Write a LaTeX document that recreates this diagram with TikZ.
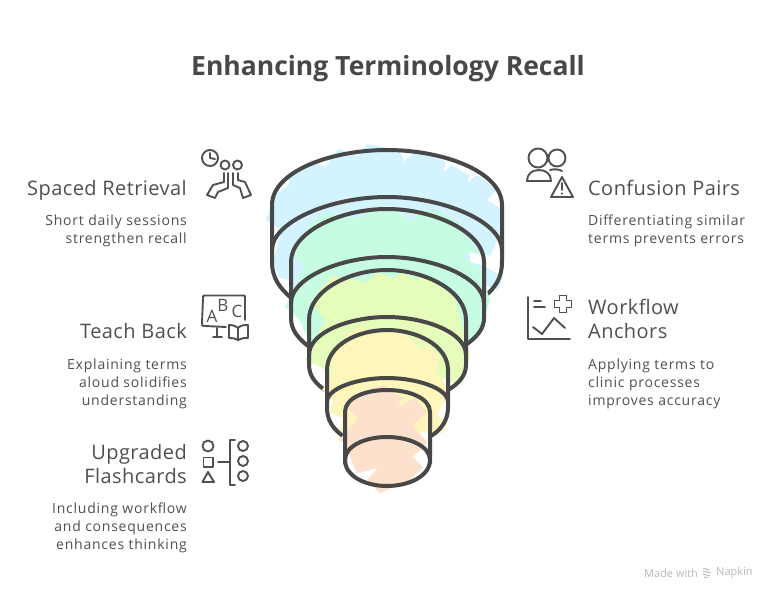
\documentclass[tikz,border=0pt]{standalone}
\usepackage{fontspec}
\setmainfont{Open Sans}
\definecolor{ink}{HTML}{484848}
\definecolor{txt}{HTML}{505050}
\definecolor{cblue}{HTML}{D2F3FF}
\definecolor{cgreen}{HTML}{C6FCE2}
\definecolor{clime}{HTML}{E6FCBB}
\definecolor{cyellow}{HTML}{FEF6BB}
\definecolor{cpeach}{HTML}{FDE1CC}
\newfontfamily\headfont[LetterSpace=2.2]{Open Sans}
\newfontfamily\bodyfont[LetterSpace=5.5]{Open Sans}
\tikzset{
  rim/.style={draw=ink,line width=4pt,line cap=round,line join=round},
  ico/.style={draw=txt,line width=1.9pt,line cap=round,line join=round},
  titletext/.style={text=ink,font=\fontsize{26.5}{30}\selectfont\bfseries,inner sep=0pt},
  headl/.style={text=txt,font=\headfont\fontsize{20}{24}\selectfont,align=right,anchor=east,inner sep=0pt},
  headr/.style={text=txt,font=\headfont\fontsize{20}{24}\selectfont,align=left,anchor=west,inner sep=0pt},
  bodyl/.style={text=txt,font=\bodyfont\fontsize{14}{18}\selectfont,align=right,anchor=east,inner sep=0pt},
  bodyr/.style={text=txt,font=\bodyfont\fontsize{14}{18}\selectfont,align=left,anchor=west,inner sep=0pt},
  mark text/.style={text=black!28,font=\fontsize{11}{12}\selectfont,inner sep=0pt,anchor=west},
  icon letter/.style={text=txt,font=\fontsize{17}{17}\selectfont,inner sep=0pt}
}
\begin{document}
\begin{tikzpicture}[x=1pt,y=-1pt]
\useasboundingbox (0,0) rectangle (777,600);
\fill[white] (0,0) rectangle (777,600);
\node[titletext] (title) at (388,69) {Enhancing Terminology Recall};

% blue layer
\fill[cblue] (266,220)--(274,196)--(290,184)--(288,176)--(312,160)--(325,167)--(338,149)--(358,156)--(367,144)--(400,150)--(404,162)--(417,149)--(446,162)--(443,173)--(452,165)--(470,176)--(467,183)--(477,175)--(497,190)--(487,200)--(500,208)--(502,230)--(490,256)--(470,250)--(470,262)--(485,266)--(503,278)--(498,290)--(485,285)--(470,300)--(300,300)--(290,280)--(280,278)--(273,262)--(282,230)--cycle;
\draw[rim] (272,262)--(272,205) .. controls (272,172) and (330,150) .. (387,150) .. controls (444,150) and (502,172) .. (502,205)--(502,262) .. controls (502,278) and (495,288) .. (484,297);
\draw[rim] (272,262) .. controls (272,278) and (280,288) .. (290,297);
\draw[rim] (272,250) .. controls (272,222) and (330,197) .. (387,197) .. controls (444,197) and (502,222) .. (502,250);

% green layer
\fill[cgreen] (285,307)--(305,265)--(293,256)--(312,222)--(327,212)--(345,218)--(363,217)--(373,205)--(397,212)--(412,222)--(420,210)--(437,210)--(462,225)--(480,255)--(470,252)--(463,257)--(480,268)--(490,300)--(480,335)--(467,345)--(310,345)--(300,320)--cycle;
\draw[rim] (291,318)--(291,262) .. controls (291,232) and (340,209) .. (387,209) .. controls (434,209) and (484,232) .. (484,262)--(484,318) .. controls (484,328) and (478,336) .. (467,344);
\draw[rim] (291,318) .. controls (291,330) and (298,338) .. (308,346);
\draw[rim] (291,303) .. controls (291,278) and (340,257) .. (387,257) .. controls (434,257) and (484,278) .. (484,303);

% lime layer
\fill[clime] (305,360)--(325,320)--(315,308)--(312,300)--(332,275)--(350,280)--(367,282)--(378,272)--(393,278)--(403,272)--(417,280)--(423,273)--(455,298)--(463,330)--(470,355)--(462,385)--(443,378)--(430,395)--(340,395)--(323,368)--cycle;
\draw[rim] (309,365)--(309,320) .. controls (309,290) and (350,270) .. (387,270) .. controls (424,270) and (466,290) .. (466,320)--(466,365) .. controls (466,376) and (458,384) .. (448,390);
\draw[rim] (309,365) .. controls (309,376) and (316,384) .. (325,390);
\draw[rim] (309,355) .. controls (309,332) and (350,317) .. (387,317) .. controls (424,317) and (466,332) .. (466,355);

% yellow layer
\fill[cyellow] (322,390)--(333,373)--(330,357)--(350,333)--(360,328)--(377,335)--(397,328)--(407,337)--(423,350)--(427,345)--(440,357)--(435,372)--(443,380)--(448,393)--(437,415)--(447,423)--(443,433)--(430,432)--(345,440)--(338,440)--(343,418)--(330,413)--(333,398)--cycle;
\draw[rim] (327,408)--(327,370) .. controls (327,345) and (358,330) .. (387,330) .. controls (416,330) and (448,345) .. (448,370)--(448,408) .. controls (448,420) and (441,430) .. (431,436);
\draw[rim] (327,408) .. controls (327,420) and (333,429) .. (343,436);
\draw[rim] (327,402) .. controls (327,388) and (358,378) .. (387,378) .. controls (416,378) and (448,388) .. (448,402);

% peach layer
\fill[cpeach] (339,440)--(358,418)--(348,408)--(353,395)--(385,385)--(393,393)--(403,397)--(397,407)--(415,398)--(427,413)--(412,425)--(427,442)--(413,457)--(423,467)--(410,480)--(380,493)--(367,480)--(378,468)--(357,473)--(350,457)--(347,445)--cycle;
\draw[rim] (345,463)--(345,412) .. controls (345,398) and (365,390) .. (387,390) .. controls (409,390) and (430,398) .. (430,412)--(430,463);
\draw[rim] (345,460) .. controls (345,446) and (365,437) .. (387,437) .. controls (409,437) and (430,446) .. (430,460) .. controls (430,476) and (409,486) .. (387,486) .. controls (365,486) and (345,476) .. (345,460)--cycle;

% left texts
\node[headl] (h1) at (187,191) {\strut Spaced Retrieval};
\node[bodyl] (b1) at (187,230.5) {\strut Short daily sessions\\\strut strengthen recall};
\node[headl] (h2) at (187,334) {\strut Teach Back};
\node[bodyl] (b2) at (187,384) {\strut Explaining terms\\\strut aloud solidifies\\\strut understanding};
\node[headl] (h3) at (187,467) {\strut Upgraded\\\strut Flashcards};
\node[bodyl] (b3) at (187,527.5) {\strut Including workflow\\\strut and consequences\\\strut enhances thinking};
% right texts
\node[headr] (h4) at (588,191) {\strut Confusion Pairs};
\node[bodyr] (b4) at (588,230.5) {\strut Differentiating similar\\\strut terms prevents errors};
\node[headr] (h5) at (588,322) {\strut Workflow\\\strut Anchors};
\node[bodyr] (b5) at (588,384) {\strut Applying terms to\\\strut clinic processes\\\strut improves accuracy};

% icon 1: clock and two people
\draw[ico] (210,158) circle (8);
\draw[ico] (210,153)--(210,158)--(215,159);
\draw[ico] (225,165) circle (4.5);
\draw[ico] (237.5,165) circle (4.5);
\draw[ico] (224,173)--(224,182)--(213,185)--(207,195)--(215,198)--(218,192)--(228,188)--(228,173);
\draw[ico] (233,173)--(233,185)--(240,188)--(243,198)--(251,195)--(245,182)--(238,180)--(238,173);

% icon 2: board and book
\draw[ico] (245,320)--(245,297) .. controls (245,295.5) .. (243,295.5)--(205,295.5) .. controls (203,295.5) .. (203,298)--(202,323) .. controls (202,326) .. (205,326)--(226,327);
\draw[ico] (217,328)--(217,337);
\draw[ico] (213,337)--(222,337);
\node[icon letter] (la) at (212,316) {A};
\node[icon letter] (lb) at (223,305) {B};
\node[icon letter] (lc) at (237,311) {C};
\draw[ico] (238,328) .. controls (234,325) and (232,325) .. (229,325)--(229,338) .. controls (232,338) and (235,338) .. (238,340) .. controls (241,338) and (244,338) .. (248,338)--(248,325) .. controls (244,325) and (241,325) .. (238,328)--(238,340);

% icon 3: shapes and bracket
\draw[ico] (208,446) circle (5.5);
\draw[ico] (203.5,457.5) rectangle (213,467);
\draw[ico] (208,472)--(214,482)--(202.5,482)--cycle;
\draw[ico] (218,462)--(230,462);
\draw[ico] (235,440)--(230,440)--(230,485)--(235,485);
\draw[ico] (243,446) circle (5);
\draw[ico] (243,461) circle (5);
\draw[ico] (243,476) circle (5);

% icon 4: people and warning
\draw[ico] (538,158) circle (9.5);
\draw[ico] (557,158) circle (8.5);
\draw[ico] (527,181) .. controls (527,174) and (532,170) .. (539,170) .. controls (546,170) and (551,174) .. (551,181)--cycle;
\draw[ico] (550,170) .. controls (553,169) and (559,169) .. (562,171);
\draw[ico] (562,177)--(573,197)--(551,197)--cycle;
\draw[ico] (562,183)--(562,190);
\fill[txt] (562,193.5) circle (1.2);

% icon 5: chart and plus
\draw[ico] (528,297)--(528,339)--(570,339);
\draw[ico] (534,301)--(541,301);
\draw[ico] (534,307)--(545,307);
\draw[ico] (559.5,295.5)--(566.5,295.5)--(566.5,300.5)--(571.5,300.5)--(571.5,307.5)--(566.5,307.5)--(566.5,312.5)--(559.5,312.5)--(559.5,307.5)--(554.5,307.5)--(554.5,300.5)--(559.5,300.5)--cycle;
\draw[ico] (533,327)--(542,334)--(554,318)--(565,328);

% watermark
\node[mark text] (m1) at (644,573) {Made with};
\draw[black!28,line width=1pt] (703,568)--(709,570) (703,571)--(711,573) (703,574)--(710,576) (704,577)--(708,578);
\node[mark text] (m2) at (716,573) {Napkin};
\end{tikzpicture}
\end{document}
